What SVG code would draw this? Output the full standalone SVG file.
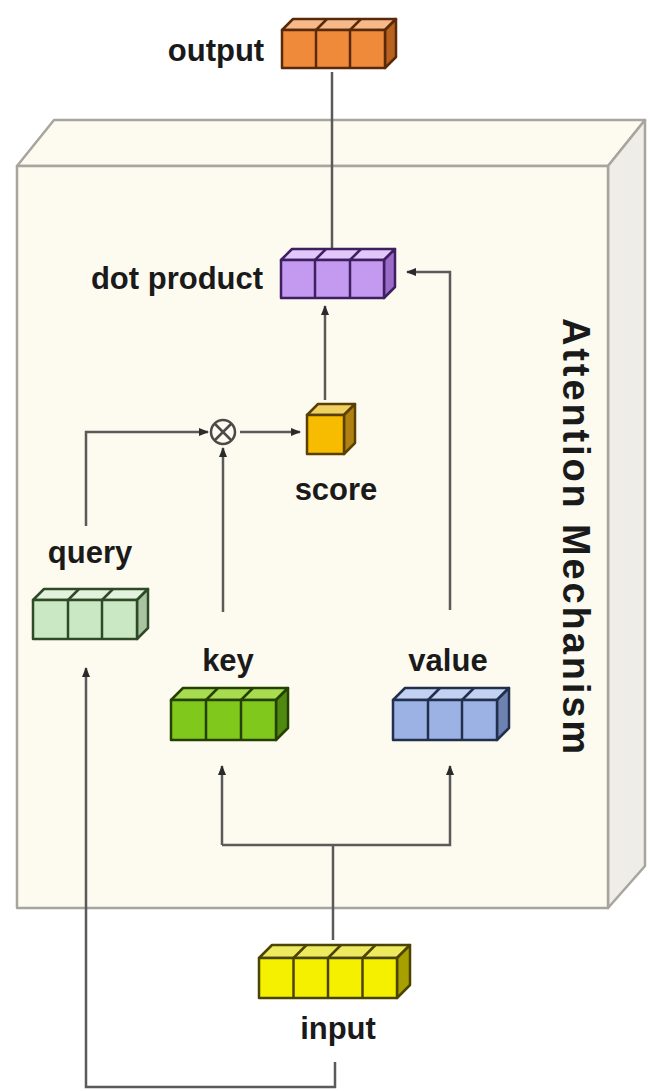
<svg xmlns="http://www.w3.org/2000/svg" width="650" height="1091" viewBox="0 0 650 1091">
<defs>
<style>
.lbl{font-family:"Liberation Sans",Arial,sans-serif;font-weight:bold;font-size:31px;fill:#1a1a1a;text-anchor:middle}
.big{font-size:38px}
.box{stroke:#a8a59f;stroke-width:2.5;stroke-linejoin:round}
.con{fill:none;stroke:#5a5a58;stroke-width:2.5}
.cs{stroke-width:2.5;stroke-linejoin:round}
</style>
<marker id="ah" viewBox="0 0 10 10" refX="9" refY="5" markerWidth="4" markerHeight="4" orient="auto">
<path d="M0,1 L10,5 L0,9 z" fill="#2a2a2a"/>
</marker>
</defs>
<rect width="650" height="1091" fill="#ffffff"/>

<g id="attention-box">
<polygon class="box" points="17,166 54,120 645,120 608,166" fill="#fdfaf0"/>
<polygon class="box" points="608,166 645,120 645,866 608,908" fill="#efede7"/>
<rect class="box" x="17" y="166" width="591" height="742" fill="#fdfaf0"/>
<text class="lbl big" transform="translate(563,536) rotate(90)" textLength="436" lengthAdjust="spacing">Attention Mechanism</text>
</g>

<g id="connectors">
<line class="con" x1="332" y1="72" x2="332" y2="248"/>
<polyline class="con" points="450,610 450,272 407,272" marker-end="url(#ah)"/>
<line class="con" x1="325" y1="400" x2="325" y2="306" marker-end="url(#ah)"/>
<polyline class="con" points="86,526 86,432 208,432" marker-end="url(#ah)"/>
<line class="con" x1="240" y1="432" x2="300" y2="432" marker-end="url(#ah)"/>
<line class="con" x1="223" y1="612" x2="223" y2="448" marker-end="url(#ah)"/>
<polyline class="con" points="222,845 222,766" marker-end="url(#ah)"/>
<polyline class="con" points="222,845 450,845 450,766" marker-end="url(#ah)"/>
<line class="con" x1="333" y1="845" x2="333" y2="940"/>
<polyline class="con" points="335,1062 335,1087 86,1087 86,668" marker-end="url(#ah)"/>
</g>

<g id="multiply">
<circle cx="223" cy="432" r="12" fill="#fdfaf0" stroke="#4a4a48" stroke-width="2.5"/>
<line x1="214.5" y1="423.5" x2="231.5" y2="440.5" stroke="#4a4a48" stroke-width="2.5"/>
<line x1="231.5" y1="423.5" x2="214.5" y2="440.5" stroke="#4a4a48" stroke-width="2.5"/>
</g>

<g id="output">
<text class="lbl" x="216" y="61">output</text>
<g class="cs" stroke="#5a2a08">
<polygon points="282,30 293,19 396,19 385,30" fill="#f5b98a"/>
<polygon points="385,30 396,19 396,57 385,68" fill="#b8621f"/>
<rect x="282" y="30" width="103" height="38" fill="#ee8a3a"/>
<line x1="316" y1="30" x2="316" y2="68"/><line x1="350" y1="30" x2="350" y2="68"/>
<line x1="316" y1="30" x2="327" y2="19"/><line x1="350" y1="30" x2="361" y2="19"/>
</g>
</g>

<g id="dot-product">
<text class="lbl" x="177" y="289">dot product</text>
<g class="cs" stroke="#3e1f60">
<polygon points="281,260 292,249 395,249 384,260" fill="#e2c8fa"/>
<polygon points="384,260 395,249 395,287 384,298" fill="#9a6cc8"/>
<rect x="281" y="260" width="103" height="38" fill="#c49af0"/>
<line x1="315" y1="260" x2="315" y2="298"/><line x1="350" y1="260" x2="350" y2="298"/>
<line x1="315" y1="260" x2="326" y2="249"/><line x1="350" y1="260" x2="361" y2="249"/>
</g>
</g>

<g id="score">
<g class="cs" stroke="#5a4000">
<polygon points="307,415 318,404 355,404 344,415" fill="#f0d060"/>
<polygon points="344,415 355,404 355,443 344,454" fill="#b08010"/>
<rect x="307" y="415" width="37" height="39" fill="#f7bb00"/>
</g>
<text class="lbl" x="336" y="500">score</text>
</g>

<g id="query">
<text class="lbl" x="90" y="563">query</text>
<g class="cs" stroke="#2e4a26">
<polygon points="33,600 44,589 148,589 137,600" fill="#e2f2dc"/>
<polygon points="137,600 148,589 148,628 137,639" fill="#a8c4a0"/>
<rect x="33" y="600" width="104" height="39" fill="#cbe8c4"/>
<line x1="68" y1="600" x2="68" y2="639"/><line x1="102" y1="600" x2="102" y2="639"/>
<line x1="68" y1="600" x2="79" y2="589"/><line x1="102" y1="600" x2="113" y2="589"/>
</g>
</g>

<g id="key">
<text class="lbl" x="228" y="671">key</text>
<g class="cs" stroke="#254000">
<polygon points="171,700 183,688 288,688 276,700" fill="#a8dc50"/>
<polygon points="276,700 288,688 288,728 276,740" fill="#4f8a10"/>
<rect x="171" y="700" width="105" height="40" fill="#80c81c"/>
<line x1="206" y1="700" x2="206" y2="740"/><line x1="241" y1="700" x2="241" y2="740"/>
<line x1="206" y1="700" x2="218" y2="688"/><line x1="241" y1="700" x2="253" y2="688"/>
</g>
</g>

<g id="value">
<text class="lbl" x="448" y="671">value</text>
<g class="cs" stroke="#22304e">
<polygon points="393,700 405,688 509,688 497,700" fill="#c4d2f2"/>
<polygon points="497,700 509,688 509,728 497,740" fill="#6e82b0"/>
<rect x="393" y="700" width="104" height="40" fill="#9cb2e4"/>
<line x1="428" y1="700" x2="428" y2="740"/><line x1="462" y1="700" x2="462" y2="740"/>
<line x1="428" y1="700" x2="440" y2="688"/><line x1="462" y1="700" x2="474" y2="688"/>
</g>
</g>

<g id="input">
<g class="cs" stroke="#4a4400">
<polygon points="259,958 272,945 410,945 397,958" fill="#eeea60"/>
<polygon points="397,958 410,945 410,985 397,998" fill="#a8a000"/>
<rect x="259" y="958" width="138" height="40" fill="#f5f000"/>
<line x1="293.5" y1="958" x2="293.5" y2="998"/><line x1="328" y1="958" x2="328" y2="998"/><line x1="362.5" y1="958" x2="362.5" y2="998"/>
<line x1="293.5" y1="958" x2="306.5" y2="945"/><line x1="328" y1="958" x2="341" y2="945"/><line x1="362.5" y1="958" x2="375.5" y2="945"/>
</g>
<text class="lbl" x="338" y="1039">input</text>
</g>
</svg>
